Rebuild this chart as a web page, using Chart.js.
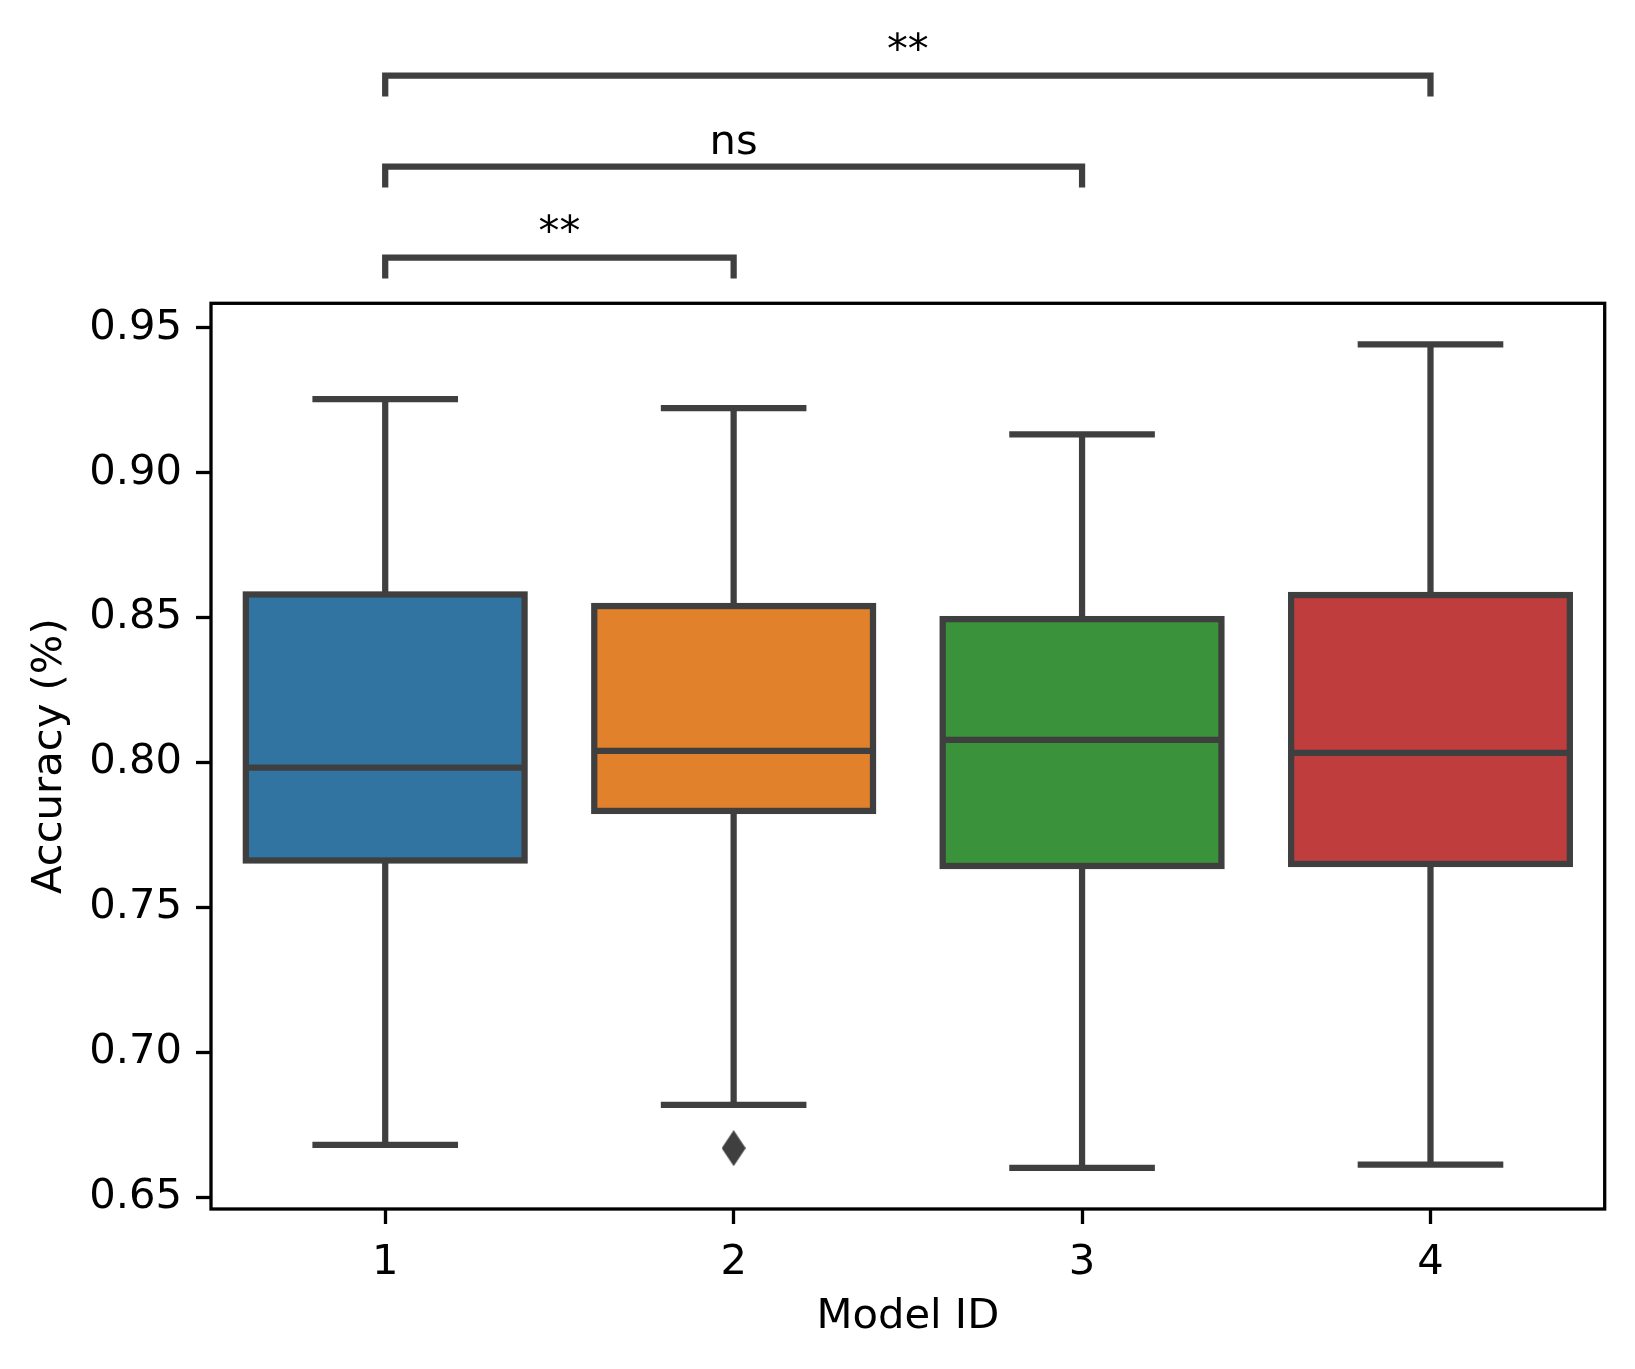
<!DOCTYPE html>
<html>
<head>
<meta charset="utf-8">
<script src="https://cdn.jsdelivr.net/npm/chart.js@4.4.1/dist/chart.umd.min.js"></script>
<style>
  html, body { margin: 0; padding: 0; background: #fff; }
  canvas { display: block; }
</style>
</head>
<body>
<canvas id="chart" width="1635" height="1369"></canvas>
<script>
// box plot values
const modelIds = ['1', '2', '3', '4'];
const whiskerLow = [0.6680, 0.6818, 0.6601, 0.6612];
const q1 = [0.7662, 0.7833, 0.7643, 0.7650];
const medians = [0.7982, 0.8040, 0.8078, 0.8033];
const q3 = [0.8580, 0.8540, 0.8495, 0.8578];
const whiskerHigh = [0.9254, 0.9223, 0.9133, 0.9443];
const outliers = [null, 0.6669, null, null];
const yTicks = [0.65, 0.70, 0.75, 0.80, 0.85, 0.90, 0.95];

// significance annotations (index pairs + labels)
const pairs = [[0, 1], [0, 2], [0, 3]];
const pairLabels = ['**', 'ns', '**'];

const boxColors = ['#3274a1', '#e1812c', '#3a923a', '#c03d3e'];
const lineGray = '#3f3f3f';
const FONT = 'DejaVu Sans';
const FS = 41.7;
const LW = 6.25;

// thin diamond marker for the outlier
const diamond = document.createElement('canvas');
diamond.width = 24; diamond.height = 36;
(() => {
    const c = diamond.getContext('2d');
    c.fillStyle = lineGray;
    c.beginPath();
    c.moveTo(12, 0); c.lineTo(24, 18); c.lineTo(12, 36); c.lineTo(0, 18);
    c.closePath();
    c.fill();
})();

const line = (ctx, x1, y1, x2, y2) => {
    ctx.beginPath();
    ctx.moveTo(x1, y1);
    ctx.lineTo(x2, y2);
    ctx.stroke();
};

// whiskers, caps, box outline and median on top of the floating bars
const boxPlugin = {
    id: 'boxes',
    afterDatasetsDraw(chart) {
        const { ctx, scales: { y } } = chart;
        const meta = chart.getDatasetMeta(0);
        ctx.save();
        ctx.strokeStyle = lineGray;
        ctx.lineWidth = LW;
        ctx.lineJoin = 'miter';
        meta.data.forEach((bar, i) => {
            const { x: cx, width } = bar.getProps(['x', 'width'], true);
            const left = cx - width / 2;
            const yLo = y.getPixelForValue(whiskerLow[i]);
            const yHi = y.getPixelForValue(whiskerHigh[i]);
            const yQ1 = y.getPixelForValue(q1[i]);
            const yQ3 = y.getPixelForValue(q3[i]);
            const yMed = y.getPixelForValue(medians[i]);
            ctx.lineCap = 'butt';
            line(ctx, cx, yQ3, cx, yHi);
            line(ctx, cx, yQ1, cx, yLo);
            ctx.lineCap = 'square';
            const capHalf = width / 4;
            line(ctx, cx - capHalf, yHi, cx + capHalf, yHi);
            line(ctx, cx - capHalf, yLo, cx + capHalf, yLo);
            ctx.lineCap = 'butt';
            ctx.strokeRect(left, yQ3, width, yQ1 - yQ3);
            line(ctx, left, yMed, left + width, yMed);
        });
        ctx.restore();
    }
};

// axes frame + significance brackets above the plot
const framePlugin = {
    id: 'frame',
    afterDraw(chart) {
        const { ctx, chartArea: a, scales: { x } } = chart;
        ctx.save();
        ctx.strokeStyle = '#000';
        ctx.lineWidth = 3.3;
        ctx.strokeRect(a.left, a.top, a.right - a.left, a.bottom - a.top);

        ctx.strokeStyle = lineGray;
        ctx.lineWidth = LW;
        ctx.lineCap = 'butt';
        ctx.lineJoin = 'miter';
        ctx.fillStyle = '#000';
        ctx.font = FS + 'px "' + FONT + '"';
        ctx.textAlign = 'center';
        ctx.textBaseline = 'alphabetic';
        pairs.forEach(([p, q], k) => {
            const xa = x.getPixelForValue(p);
            const xb = x.getPixelForValue(q);
            const yb = a.top - 45.6 - k * 91;
            ctx.beginPath();
            ctx.moveTo(xa, yb + 20.7);
            ctx.lineTo(xa, yb);
            ctx.lineTo(xb, yb);
            ctx.lineTo(xb, yb + 20.7);
            ctx.stroke();
            ctx.fillText(pairLabels[k], (xa + xb) / 2, yb - 12.5);
        });
        ctx.restore();
    }
};

Chart.defaults.font.family = FONT;
Chart.defaults.font.size = FS;
Chart.defaults.color = '#000';

new Chart(document.getElementById('chart'), {
    type: 'bar',
    data: {
        labels: modelIds,
        datasets: [{
            label: 'IQR',
            data: q1.map((v, i) => [v, q3[i]]),
            backgroundColor: boxColors,
            borderWidth: 0,
            categoryPercentage: 0.8,
            barPercentage: 1.0
        }, {
            type: 'line',
            label: 'outliers',
            data: outliers,
            showLine: false,
            pointStyle: diamond,
            pointRadius: 12,
            pointHoverRadius: 12
        }]
    },
    options: {
        responsive: false,
        animation: false,
        events: [],
        layout: { padding: { top: 303.3, right: 30.3, bottom: 0, left: 0 } },
        plugins: { legend: { display: false }, tooltip: { enabled: false } },
        scales: {
            x: {
                offset: true,
                grid: { display: true, offset: false, drawOnChartArea: false, tickLength: 15, tickWidth: 3.3, color: '#000' },
                border: { display: false },
                ticks: { padding: 14, font: { size: FS } },
                title: { display: true, text: 'Model ID', font: { size: FS }, padding: { top: 0, bottom: 27 } },
                afterFit: (s) => { s.height = 160; }
            },
            y: {
                min: 0.6459,
                max: 0.9585,
                afterBuildTicks: (s) => { s.ticks = yTicks.map(v => ({ value: v })); },
                grid: { display: true, drawOnChartArea: false, tickLength: 15, tickWidth: 3.3, color: '#000' },
                border: { display: false },
                ticks: { padding: 14, font: { size: FS }, callback: (v) => Number(v).toFixed(2) },
                title: { display: true, text: 'Accuracy (%)', font: { size: FS }, padding: { top: 25, bottom: 0 } },
                afterFit: (s) => { s.width = 211; }
            }
        }
    },
    plugins: [boxPlugin, framePlugin]
});
</script>
</body>
</html>
